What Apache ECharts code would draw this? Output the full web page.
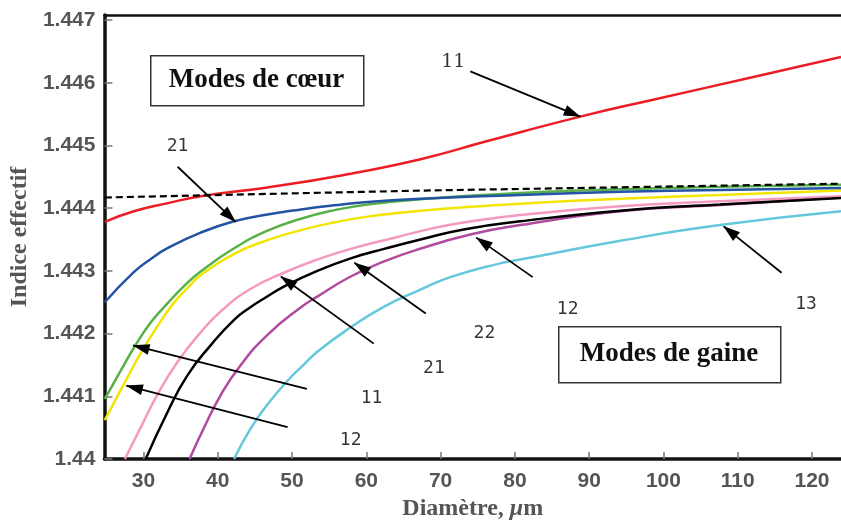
<!DOCTYPE html>
<html>
<head>
<meta charset="utf-8">
<script src="https://cdn.jsdelivr.net/npm/echarts@6/dist/echarts.min.js"></script>
<style>html,body{margin:0;padding:0;background:#fff}#c{width:841px;height:526px}</style>
</head>
<body>
<div id="c"></div>
<script>
// ---- data (diameter in µm, effective index) ----
const xTicks = [30, 40, 50, 60, 70, 80, 90, 100, 110, 120];
const yTicks = [1.440, 1.441, 1.442, 1.443, 1.444, 1.445, 1.446, 1.447];

const coreMode11 = [[24.8,1.44378],[28.7,1.44395],[33.3,1.44408],[37.7,1.44419],[46.7,1.44433],[57.0,1.44453],[67.3,1.44478],[76.3,1.44507],[88.8,1.44546],[98.6,1.44573],[112.1,1.44609],[123.9,1.44641]];
const claddingIndex = [[24.8,1.44417],[67.3,1.44428],[123.9,1.44439]];
const coreMode21 = [[24.8,1.44250],[28.7,1.44298],[31.0,1.44319],[33.3,1.443365],[37.7,1.44361],[42.2,1.44379],[46.7,1.44390],[51.2,1.44398],[55.6,1.444045],[60.2,1.44410],[67.3,1.44415],[80.7,1.44421],[94.2,1.44426],[107.6,1.44429],[123.9,1.44432]];
const cladMode11 = [[24.8,1.44096],[27.0,1.44142],[28.8,1.44179],[31.0,1.44218],[33.3,1.44249],[35.5,1.44276],[37.7,1.44299],[42.2,1.44336],[46.7,1.44364],[51.2,1.44383],[55.6,1.443965],[60.2,1.44406],[68.6,1.444155],[80.7,1.44424],[94.2,1.44430],[107.6,1.44434],[123.9,1.444373]];
const cladMode12 = [[24.8,1.44062],[27.7,1.44127],[29.7,1.44170],[31.9,1.44212],[34.1,1.44249],[36.2,1.44276],[37.7,1.44293],[42.2,1.44327],[46.7,1.44349],[51.2,1.44365],[55.6,1.44377],[60.2,1.443865],[67.3,1.44396],[80.7,1.44407],[94.2,1.44415],[107.6,1.44421],[123.9,1.44428]];
const cladMode21 = [[27.5,1.44000],[29.7,1.44052],[31.9,1.44103],[34.6,1.44155],[37.7,1.44202],[40.65,1.44238],[44.4,1.44271],[48.9,1.44297],[53.4,1.44318],[57.9,1.44335],[64.2,1.44354],[68.6,1.44367],[73.1,1.44377],[80.7,1.44389],[94.2,1.44403],[107.6,1.44411],[123.9,1.44419]];
const cladMode22 = [[30.3,1.44000],[33.25,1.44075],[35.9,1.44133],[39.1,1.44182],[42.2,1.44222],[44.4,1.44242],[46.5,1.44258],[48.9,1.44275],[53.4,1.44300],[57.9,1.44320],[62.4,1.44335],[67.3,1.44350],[73.1,1.44366],[80.7,1.44379],[94.2,1.44396],[107.6,1.44406],[123.9,1.44416]];
const cladMode12b = [[36.2,1.44000],[38.2,1.44051],[40.4,1.44102],[43.1,1.44150],[46.7,1.44198],[51.2,1.44242],[53.4,1.44259],[57.9,1.44291],[62.4,1.44315],[66.9,1.44334],[74.0,1.44358],[80.7,1.44373],[94.2,1.44395],[107.6,1.44405],[123.9,1.44417]];
const cladMode13 = [[42.2,1.44000],[44.4,1.44048],[46.9,1.44090],[49.8,1.44130],[51.2,1.44146],[53.4,1.44171],[57.9,1.44210],[62.4,1.44243],[66.9,1.44268],[71.3,1.44290],[78.0,1.44312],[80.7,1.44318],[94.2,1.44348],[107.6,1.44373],[123.9,1.44395]];

// annotation labels (first one = core mode 11)
const labelText = ['11', '21', '11', '12', '21', '22', '12', '13'];
const labelX = [71.7, 34.6, 60.7, 57.9, 69.1, 75.9, 87.1, 119.2];
const labelY = [1.44633, 1.44499, 1.44097, 1.44030, 1.44145, 1.44201, 1.44239, 1.44246];
// arrows: tail -> tip
const arrowTail = [[74.0,1.44618],[34.6,1.44466],[52.0,1.44112],[49.4,1.44051],[61.0,1.44184],[68.0,1.44232],[82.4,1.44290],[115.9,1.44297]];
const arrowTip  = [[88.8,1.44546],[42.4,1.44378],[28.6,1.44181],[27.7,1.44117],[48.5,1.44291],[58.4,1.44313],[74.8,1.44353],[108.1,1.44371]];

const chart = echarts.init(document.getElementById('c'), null, {renderer: 'canvas'});

function curve(data, color, extra) {
  return Object.assign({
    type: 'line', data: data, showSymbol: false, symbol: 'none',
    smooth: 0.5, clip: true, silent: true,
    lineStyle: {color: color, width: 2.5}, z: 2
  }, extra || {});
}

const labelPts = labelText.map((t, i) => ({value: [labelX[i], labelY[i]], name: t}));

const arrowData = arrowTail.map((t, i) => [{coord: t}, {coord: arrowTip[i]}]);

const axisFont = {fontFamily: 'Liberation Sans', fontWeight: 'bold', fontSize: 21, color: '#555'};

function labelSeries(pts, family, size) {
  return {
    type: 'scatter', data: pts, symbolSize: 0, silent: true, z: 6,
    label: {show: true, position: 'inside', formatter: p => '{t|' + p.name + '}',
      rich: {t: {fontFamily: family, fontSize: size, fontWeight: 'normal', color: '#000'}}}
  };
}

chart.setOption({
  animation: false,
  backgroundColor: '#fff',
  grid: {left: 104, right: 0, top: 15, bottom: 67, containLabel: false},
  xAxis: [{
    type: 'value', min: 24.75, max: 123.9, position: 'bottom',
    name: 'Diamètre, {i|μ}m', nameLocation: 'middle', nameGap: 38,
    nameTextStyle: {fontFamily: 'Liberation Serif', fontWeight: 'bold', fontSize: 24, color: '#555',
      rich: {i: {fontFamily: 'Liberation Serif', fontWeight: 'bold', fontStyle: 'italic', fontSize: 24, color: '#555'}}},
    axisLine: {show: true, onZero: false, lineStyle: {color: '#111', width: 3.5}},
    axisTick: {show: true, inside: true, length: 7, customValues: xTicks, lineStyle: {color: '#777', width: 1.5}},
    axisLabel: Object.assign({margin: 12, customValues: xTicks, formatter: v => String(v)}, axisFont),
    splitLine: {show: false}
  }, {
    type: 'value', min: 24.75, max: 123.9, position: 'top',
    axisLine: {show: true, onZero: false, lineStyle: {color: '#111', width: 2.5}},
    axisTick: {show: false}, axisLabel: {show: false}, splitLine: {show: false}
  }],
  yAxis: {
    type: 'value', min: 1.44, max: 1.44708,
    name: 'Indice effectif', nameLocation: 'middle', nameGap: 62, nameRotate: 90,
    nameTextStyle: {fontFamily: 'Liberation Serif', fontWeight: 'bold', fontSize: 24, color: '#555'},
    axisLine: {show: true, onZero: false, lineStyle: {color: '#111', width: 3.5}},
    axisTick: {show: true, inside: true, length: 8, customValues: yTicks, lineStyle: {color: '#777', width: 1.5}},
    axisLabel: Object.assign({margin: 9, customValues: yTicks, formatter: v => String(+(+v).toFixed(3))}, axisFont),
    splitLine: {show: false}
  },
  series: [
    curve(cladMode13, '#63c8dc'),
    curve(cladMode12b, '#b04b9f'),
    curve(cladMode21, '#f49ac1'),
    curve(cladMode22, '#000000'),
    curve(cladMode12, '#f2e500'),
    curve(cladMode11, '#57b146'),
    curve(coreMode21, '#2353a3'),
    curve(claddingIndex, '#000000', {smooth: false, lineStyle: {color: '#000', width: 2.2, type: [7, 4]}, z: 3}),
    curve(coreMode11, '#ec1c24'),
    {
      type: 'line', data: [], silent: true, z: 5,
      markLine: {
        silent: true, animation: false,
        symbol: ['none', 'triangle'], symbolSize: [11, 17], symbolOffset: [[0, 0], [0, 8]],
        label: {show: false},
        lineStyle: {color: '#000', width: 1.8, type: 'solid'},
        itemStyle: {color: '#000'},
        emphasis: {disabled: true},
        data: arrowData
      }
    },
    labelSeries(labelPts.slice(0, 1), 'DejaVu Serif', 19),
    labelSeries(labelPts.slice(1), 'DejaVu Sans Mono', 18)
  ],
  graphic: [
    {type: 'rect', left: 150, top: 55, shape: {width: 213, height: 50},
     style: {fill: '#fff', stroke: '#333', lineWidth: 1.5}, z: 10},
    {type: 'text',
     style: {text: 'Modes de cœur', x: 256.5, y: 80, align: 'center', verticalAlign: 'middle',
       font: 'bold 27px "Liberation Serif"', fill: '#111'}, z: 11},
    {type: 'rect', left: 558, top: 326, shape: {width: 222, height: 56},
     style: {fill: '#fff', stroke: '#333', lineWidth: 1.5}, z: 10},
    {type: 'text',
     style: {text: 'Modes de gaine', x: 669, y: 354, align: 'center', verticalAlign: 'middle',
       font: 'bold 27px "Liberation Serif"', fill: '#111'}, z: 11}
  ]
});
</script>
</body>
</html>
